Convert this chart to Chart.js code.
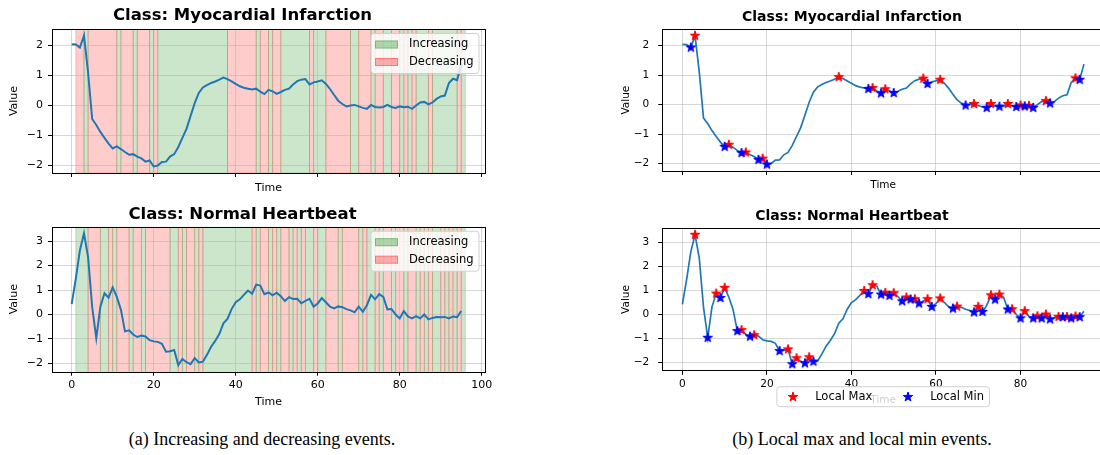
<!DOCTYPE html>
<html>
<head>
<meta charset="utf-8">
<script src="https://cdn.jsdelivr.net/npm/chart.js@4.4.0/dist/chart.umd.min.js"></script>
<style>
  html, body { margin: 0; padding: 0; background: #fff; overflow: hidden; }
  #page { position: relative; width: 1100px; height: 455px; overflow: hidden; }
  #page canvas { position: absolute; }
  .caption {
    position: absolute; white-space: nowrap; transform: translateX(-50%);
    font-family: "Liberation Serif", serif; font-size: 18px; line-height: 18px; color: #000;
  }
</style>
</head>
<body>
<div id="page">
  <canvas id="incMI" width="500" height="200" style="left:0;top:0"></canvas>
  <canvas id="incNormal" width="500" height="220" style="left:0;top:200px"></canvas>
  <canvas id="extMI" width="520" height="200" style="left:600px;top:0"></canvas>
  <canvas id="extNormal" width="520" height="220" style="left:600px;top:200px"></canvas>
  <div class="caption" style="left:262px;top:430px">(a) Increasing and decreasing events.</div>
  <div class="caption" style="left:862px;top:430px">(b) Local max and local min events.</div>
</div>
<script>
// time index 0..95
var timeSteps = [];
for (var t = 0; t < 96; t++) timeSteps.push(t);

// values
var miValues = [
  2.04, 2.03, 1.93, 2.33, 1.10, -0.45, -0.65, -0.88, -1.08, -1.27,
  -1.43, -1.36, -1.45, -1.55, -1.64, -1.62, -1.70, -1.76, -1.87, -1.83,
  -2.03, -2.00, -1.88, -1.87, -1.70, -1.62, -1.38, -1.08, -0.78, -0.35,
  0.08, 0.42, 0.60, 0.68, 0.75, 0.80, 0.86, 0.93, 0.88, 0.80,
  0.72, 0.64, 0.59, 0.56, 0.53, 0.56, 0.46, 0.38, 0.52, 0.47,
  0.39, 0.45, 0.52, 0.56, 0.70, 0.81, 0.86, 0.88, 0.70, 0.77,
  0.80, 0.84, 0.72, 0.55, 0.35, 0.16, 0.05, -0.03, 0.00, 0.02,
  -0.03, -0.08, -0.11, 0.02, -0.05, -0.07, -0.05, 0.02, -0.05, -0.08,
  -0.03, -0.06, -0.04, -0.11, 0.00, 0.10, 0.12, 0.04, 0.10, 0.22,
  0.30, 0.33, 0.75, 0.89, 0.84, 1.37
];
var normalValues = [
  0.42, 1.45, 2.62, 3.32, 2.35, 0.30, -0.97, 0.32, 0.87, 0.69,
  1.11, 0.72, 0.20, -0.69, -0.65, -0.82, -0.92, -0.86, -0.90, -1.05,
  -1.10, -1.12, -1.20, -1.52, -1.50, -1.45, -2.07, -1.82, -1.95, -2.03,
  -1.78, -1.96, -1.93, -1.65, -1.32, -1.08, -0.80, -0.36, -0.18, 0.22,
  0.50, 0.62, 0.80, 0.98, 0.85, 1.22, 1.18, 0.83, 0.90, 0.78,
  0.89, 0.75, 0.55, 0.71, 0.63, 0.64, 0.46, 0.56, 0.64, 0.32,
  0.45, 0.67, 0.50, 0.32, 0.25, 0.33, 0.30, 0.22, 0.17, 0.09,
  0.32, 0.11, 0.38, 0.80, 0.62, 0.83, 0.72, 0.21, 0.22, 0.00,
  -0.16, 0.14, -0.08, -0.16, -0.07, -0.16, 0.00, -0.20, -0.14, -0.10,
  -0.11, -0.10, -0.16, -0.08, -0.11, 0.14
];

var xTicksLeft = [0, 20, 40, 60, 80, 100];
var xTicksRight = [0, 20, 40, 60, 80];
var yTicksMI = [-2, -1, 0, 1, 2];
var yTicksNormal = [-2, -1, 0, 1, 2, 3];

Chart.defaults.font.family = '"DejaVu Sans", sans-serif';
Chart.defaults.color = '#000';
Chart.defaults.animation = false;

var gridColor = 'rgba(176,176,176,0.5)';
var upFill = 'rgba(0,128,0,0.2)';
var downFill = 'rgba(255,0,0,0.2)';

function minusFmt(v) { return v < 0 ? '\u2212' + Math.abs(v) : String(v); }

// matplotlib-like range with 5% margins
function range(vals) {
  var lo = Math.min.apply(null, vals), hi = Math.max.apply(null, vals);
  var m = (hi - lo) * 0.05;
  return [lo - m, hi + m];
}

function makeStar(color, r) {
  var c = document.createElement('canvas');
  var s = Math.ceil(r * 2 + 2);
  c.width = s; c.height = s;
  var g = c.getContext('2d');
  g.beginPath();
  for (var k = 0; k < 10; k++) {
    var rr = k % 2 === 0 ? r : r * 0.382;
    var a = -Math.PI / 2 + k * Math.PI / 5;
    g.lineTo(s / 2 + rr * Math.cos(a), s / 2 + rr * Math.sin(a));
  }
  g.closePath();
  g.fillStyle = color; g.fill();
  g.lineWidth = 1; g.strokeStyle = color; g.stroke();
  return c;
}
var stars = { max: makeStar('#ff0000', 5), min: makeStar('#0000ff', 5) };

// local extrema (strict), sign 1 = max, -1 = min
function localPoints(vals, sign) {
  var out = [];
  for (var i = 1; i < vals.length - 1; i++) {
    if (sign * (vals[i] - vals[i - 1]) > 0 && sign * (vals[i] - vals[i + 1]) > 0) {
      out.push({ x: timeSteps[i], y: vals[i] });
    }
  }
  return out;
}

// green / red bands for rising / falling steps, span [i, i+1] coloured by v[i]-v[i-1]
var trendSpans = {
  id: 'trendSpans',
  beforeDraw: function (chart, args, opts) {
    if (!opts.enabled) return;
    var pts = chart.data.datasets[0].data;
    var xs = chart.scales.x, area = chart.chartArea, ctx = chart.ctx;
    ctx.save();
    ctx.beginPath();
    ctx.rect(area.left, area.top, area.right - area.left, area.bottom - area.top);
    ctx.clip();
    var i = 1;
    while (i < pts.length) {
      var up = pts[i].y > pts[i - 1].y;
      var j = i;
      while (j + 1 < pts.length && (pts[j + 1].y > pts[j].y) === up) j++;
      var x1 = xs.getPixelForValue(pts[i].x), x2 = xs.getPixelForValue(pts[j].x + 1);
      ctx.fillStyle = up ? upFill : downFill;
      ctx.fillRect(x1, area.top, x2 - x1, area.bottom - area.top);
      ctx.strokeStyle = up ? upFill : downFill;
      ctx.lineWidth = 1;
      ctx.strokeRect(x1, area.top, x2 - x1, area.bottom - area.top);
      i = j + 1;
    }
    ctx.restore();
  }
};

function roundRect(ctx, x, y, w, h, r) {
  ctx.beginPath();
  ctx.moveTo(x + r, y);
  ctx.arcTo(x + w, y, x + w, y + h, r);
  ctx.arcTo(x + w, y + h, x, y + h, r);
  ctx.arcTo(x, y + h, x, y, r);
  ctx.arcTo(x, y, x + w, y, r);
  ctx.closePath();
}

// axes frame + boxed legend
var frameLegend = {
  id: 'frameLegend',
  afterDatasetsDraw: function (chart) {
    var a = chart.chartArea, ctx = chart.ctx;
    ctx.save();
    ctx.strokeStyle = '#000';
    ctx.lineWidth = 1;
    ctx.strokeRect(Math.round(a.left) + 0.5, Math.round(a.top) + 0.5,
      Math.round(a.right - a.left), Math.round(a.bottom - a.top));
    ctx.restore();
  },
  afterDraw: function (chart, args, opts) {
    if (!opts.items) return;
    var a = chart.chartArea, ctx = chart.ctx;
    var x0, y0;
    if (opts.place === 'below') {
      x0 = (a.left + a.right) / 2 - opts.width / 2;
      y0 = a.bottom + opts.offset;
    } else {
      x0 = a.right - opts.offset - opts.width;
      y0 = a.top + 4.5;
    }
    ctx.save();
    roundRect(ctx, x0, y0, opts.width, opts.height, 3);
    ctx.fillStyle = 'rgba(255,255,255,0.8)';
    ctx.fill();
    ctx.strokeStyle = '#d0d0d0';
    ctx.lineWidth = 1;
    ctx.stroke();
    ctx.font = '11.5px "DejaVu Sans"';
    ctx.textBaseline = 'middle';
    for (var k = 0; k < opts.items.length; k++) {
      var it = opts.items[k];
      var iy = y0 + it.dy;
      if (it.kind === 'up' || it.kind === 'down') {
        ctx.fillStyle = it.kind === 'up' ? 'rgba(0,128,0,0.3)' : 'rgba(255,0,0,0.3)';
        ctx.fillRect(x0 + it.dx, iy - 4, 23, 8);
        ctx.strokeStyle = it.kind === 'up' ? 'rgba(0,128,0,0.3)' : 'rgba(255,0,0,0.3)';
        ctx.strokeRect(x0 + it.dx + 0.5, iy - 3.5, 22, 7);
      } else {
        var img = stars[it.kind];
        ctx.drawImage(img, Math.round(x0 + it.dx - img.width / 2), Math.round(iy - img.height / 2));
      }
      ctx.fillStyle = '#000';
      ctx.fillText(it.label, x0 + it.tx, iy);
    }
    ctx.restore();
  }
};

function panel(canvasId, o) {
  var datasets = [{
    data: timeSteps.map(function (t, i) { return { x: t, y: o.values[i] }; }),
    borderColor: '#1f77b4', borderWidth: o.lineWidth, pointRadius: 0, tension: 0, order: 3
  }];
  if (o.stars) {
    datasets.push({ data: localPoints(o.values, 1), showLine: false, pointStyle: stars.max, pointRadius: 5, order: 2 });
    datasets.push({ data: localPoints(o.values, -1), showLine: false, pointStyle: stars.min, pointRadius: 5, order: 1 });
  }
  var yr = range(o.values);
  return new Chart(document.getElementById(canvasId), {
    type: 'line',
    data: { datasets: datasets },
    plugins: [trendSpans, frameLegend],
    options: {
      responsive: false,
      events: [],
      layout: { padding: { left: 0, right: o.padRight, top: 0, bottom: 0 } },
      plugins: {
        legend: { display: false },
        tooltip: { enabled: false },
        title: {
          display: true, text: o.title, color: '#000',
          font: { size: o.titleSize, weight: 'bold' },
          padding: { top: o.titleTop, bottom: o.titleBottom }
        },
        trendSpans: { enabled: !o.stars },
        frameLegend: o.legend || {}
      },
      scales: {
        x: {
          type: 'linear', min: o.xRange[0], max: o.xRange[1],
          afterBuildTicks: function (s) { s.ticks = o.xTicks.map(function (v) { return { value: v }; }); },
          afterFit: function (s) { s.height = o.xHeight; },
          ticks: { display: o.xLabels, font: { size: o.tickSize }, color: '#000', padding: 3, maxRotation: 0 },
          grid: { color: gridColor, lineWidth: 1, tickColor: '#000', tickLength: 4 },
          border: { display: false },
          title: { display: true, text: 'Time', color: '#000', font: { size: o.labelSize }, padding: { top: 0, bottom: o.xTitlePad } }
        },
        y: {
          type: 'linear', min: yr[0], max: yr[1],
          afterBuildTicks: function (s) { s.ticks = o.yTicks.map(function (v) { return { value: v }; }); },
          afterFit: function (s) { s.width = o.yWidth; },
          ticks: { font: { size: o.tickSize }, color: '#000', padding: o.yTickPad, callback: minusFmt },
          grid: { color: gridColor, lineWidth: 1, tickColor: '#000', tickLength: 4 },
          border: { display: false },
          title: { display: true, text: 'Value', color: '#000', font: { size: o.labelSize }, padding: { top: o.yTitlePad, bottom: 0 } }
        }
      }
    }
  });
}

var spanLegend = {
  place: 'inside', offset: 6, width: 108, height: 40,
  items: [
    { kind: 'up', label: 'Increasing', dx: 4, tx: 38, dy: 11 },
    { kind: 'down', label: 'Decreasing', dx: 4, tx: 38, dy: 28.5 }
  ]
};

panel('incMI', {
  values: miValues, title: 'Class: Myocardial Infarction', titleSize: 16.5, titleTop: 6.1, titleBottom: 3.1,
  xRange: [-4.8, 100.8], xTicks: xTicksLeft, xLabels: false, xHeight: 27, xTitlePad: 5.7,
  yTicks: yTicksMI, yWidth: 52, yTickPad: 5, yTitlePad: 7.9, padRight: 15,
  tickSize: 11, labelSize: 11, lineWidth: 2, legend: spanLegend
});
panel('incNormal', {
  values: normalValues, title: 'Class: Normal Heartbeat', titleSize: 16.5, titleTop: 4.6, titleBottom: 2.3,
  xRange: [-4.8, 100.8], xTicks: xTicksLeft, xLabels: true, xHeight: 48.3, xTitlePad: 11.7,
  yTicks: yTicksNormal, yWidth: 52, yTickPad: 5, yTitlePad: 7.9, padRight: 15,
  tickSize: 11, labelSize: 11, lineWidth: 2, legend: spanLegend
});
panel('extMI', {
  values: miValues, stars: true, title: 'Class: Myocardial Infarction', titleSize: 14, titleTop: 9.3, titleBottom: 3.2,
  xRange: [-4.75, 99.75], xTicks: xTicksRight, xLabels: false, xHeight: 29, xTitlePad: 8.7,
  yTicks: yTicksMI, yWidth: 62.3, yTickPad: 9, yTitlePad: 19.7, padRight: 16,
  tickSize: 10.5, labelSize: 10.5, lineWidth: 1.7
});
panel('extNormal', {
  values: normalValues, stars: true, title: 'Class: Normal Heartbeat', titleSize: 14, titleTop: 8.3, titleBottom: 3.2,
  xRange: [-4.75, 99.75], xTicks: xTicksRight, xLabels: true, xHeight: 49.3, xTitlePad: 13.7,
  yTicks: yTicksNormal, yWidth: 62.3, yTickPad: 9, yTitlePad: 19.7, padRight: 16,
  tickSize: 10.5, labelSize: 10.5, lineWidth: 1.7,
  legend: {
    place: 'below', offset: 16, width: 212.6, height: 20,
    items: [
      { kind: 'max', label: 'Local Max', dx: 16, tx: 38.3, dy: 10 },
      { kind: 'min', label: 'Local Min', dx: 131.6, tx: 153.3, dy: 10 }
    ]
  }
});
</script>
</body>
</html>
